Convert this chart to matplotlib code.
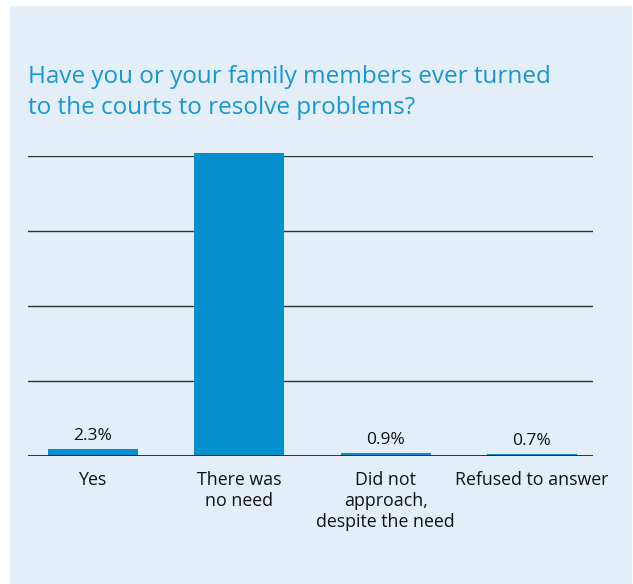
import matplotlib
matplotlib.use("Agg")
import matplotlib.pyplot as plt
from matplotlib.patches import Rectangle
import numpy as np

categories = ["Yes", "There was\nno need", "Did not\napproach,\ndespite the need", "Refused to answer"]
values = [2.3, 96.1, 0.9, 0.7]
value_labels = ["2.3%", "96.1%", "0.9%", "0.7%"]
title = "Have you or your family members ever turned\nto the courts to resolve problems?"

BAR = "#0490cd"
PANEL = "#e4eef8"
TITLE_C = "#1797d2"
FONT = ["Open Sans", "DejaVu Sans"]

W, H, DPI = 633, 584, 100
fig = plt.figure(figsize=(W / DPI, H / DPI), dpi=DPI)
fig.patch.set_facecolor("white")
panel = Rectangle((10 / W, 0), (W - 11) / W, (H - 6) / H,
                  transform=fig.transFigure, facecolor=PANEL,
                  edgecolor="none", zorder=-10)
fig.patches.append(panel)

ax = fig.add_axes([28 / W, 1 - 456 / H, (593 - 28) / W, 300 / H])
ax.set_facecolor("none")
ax.set_zorder(1)

x = np.arange(len(categories))
bars = ax.bar(x, values, width=0.615, color=BAR, zorder=3, clip_on=False)

ymax = 95.2
ax.set_ylim(0, ymax)
ax.set_xlim(-0.444, 3.417)
grid = np.linspace(0, ymax, 5)
for t in grid[1:]:
    ax.axhline(t, color="#333333", lw=1.0, zorder=2)
ax.axhline(0, color="#111111", lw=1.2, zorder=4)

for b, lab in zip(bars, value_labels):
    ax.annotate(lab, (b.get_x() + b.get_width() / 2, b.get_height()),
                xytext=(0, 3.5), textcoords="offset points", ha="center", va="bottom",
                fontsize=12.5, family=FONT, color="#111111")

ax.set_xticks(x)
ax.set_xticklabels(categories, fontsize=12.8, family=FONT, color="#111111",
                   linespacing=1.2, va="top")
ax.tick_params(axis="x", length=0, pad=11)
ax.set_yticks([])
for s in ax.spines.values():
    s.set_visible(False)

fig.text(28 / W, 1 - 65 / H, title, ha="left", va="top", fontsize=17.5,
         family=FONT, color=TITLE_C, linespacing=1.38)

fig.savefig("out.png", dpi=DPI)
